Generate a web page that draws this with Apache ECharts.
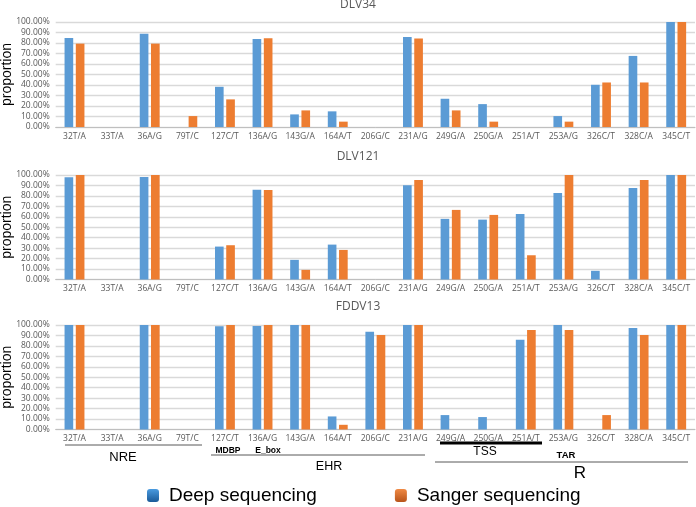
<!DOCTYPE html>
<html>
<head>
<meta charset="utf-8">
<script src="https://cdn.jsdelivr.net/npm/echarts@6/dist/echarts.min.js"></script>
<style>
html,body{margin:0;padding:0;background:#fff;}
#chart{width:696px;height:507px;}
</style>
</head>
<body>
<div id="chart"></div>
<script>
const categories = ['32T/A','33T/A','36A/G','79T/C','127C/T','136A/G','143G/A','164A/T','206G/C','231A/G','249G/A','250G/A','251A/T','253A/G','326C/T','328C/A','345C/T'];
const panelTitles = ['DLV34','DLV121','FDDV13'];
const seriesNames = ['Deep sequencing','Sanger sequencing'];
const yTicks = [0,10,20,30,40,50,60,70,80,90,100];

const dlv34Deep    = [84.8,0,88.9,0,38.3,83.9,12.0,14.9,0,85.8,26.9,21.8,0,10.4,40.2,67.7,100];
const dlv34Sanger  = [79.4,0,79.4,10.4,26.3,84.5,15.8,5.1,0,84.2,15.8,5.1,0,5.1,42.4,42.4,100];
const dlv121Deep   = [97.8,0,98.1,0,31.5,86.0,18.8,33.4,0,90.1,58.0,57.3,62.7,82.8,8.3,87.6,100];
const dlv121Sanger = [100,0,100,0,32.8,85.7,9.2,28.3,0,95.2,66.6,61.8,23.2,100,0,95.2,100];
const fddv13Deep   = [100,0,100,0,98.7,99.0,100,12.5,93.6,100,13.8,11.9,85.9,100,0,97.1,100];
const fddv13Sanger = [100,0,100,0,100,100,100,4.5,90.4,100,0,0,95.2,95.2,13.8,90.4,100];

const panelData = [[dlv34Deep,dlv34Sanger],[dlv121Deep,dlv121Sanger],[fddv13Deep,fddv13Sanger]];
const colors = ['#5B9BD5','#ED7D31'];

const gridTops = [22,175,325];
const gridHeights = [105,104.5,104.5];
const titleY = [5,157,307];

const chart = echarts.init(document.getElementById('chart'));
const grids=[],xAxes=[],yAxes=[],series=[],graphics=[];
for(let p=0;p<3;p++){
  grids.push({left:55.7,right:1,top:gridTops[p],height:gridHeights[p],outerBoundsMode:'none',containLabel:false});
  xAxes.push({type:'category',gridIndex:p,data:categories,
    axisTick:{show:false},
    axisLine:{lineStyle:{color:'#BFBFBF',width:1}},
    axisLabel:{interval:0,fontSize:8.5,color:'#595959',fontFamily:'Open Sans',margin:5,hideOverlap:false}});
  yAxes.push({type:'value',gridIndex:p,min:yTicks[0],max:yTicks[yTicks.length-1],interval:10,
    name:'proportion',nameLocation:'middle',nameGap:42,nameRotate:90,nameMoveOverlap:false,
    nameTextStyle:{fontSize:14,color:'#000',fontFamily:'Liberation Sans'},
    axisLine:{show:false},axisTick:{show:false},
    splitLine:{lineStyle:{color:'#D9D9D9',width:1.3}},
    axisLabel:{fontSize:8.5,color:'#595959',fontFamily:'Open Sans',margin:6,formatter:v=>v.toFixed(2)+'%'}});
  for(let s=0;s<2;s++){
    series.push({type:'bar',name:seriesNames[s],xAxisIndex:p,yAxisIndex:p,
      data:panelData[p][s],barWidth:'23%',barGap:'30%',
      itemStyle:{color:colors[s]},animation:false});
  }
  graphics.push({type:'text',x:358,y:titleY[p],style:{text:panelTitles[p],align:'center',verticalAlign:'middle',
    fontSize:12,fontFamily:'Open Sans',fill:'#595959'}});
}

function hline(x1,x2,y,w,c){graphics.push({type:'line',shape:{x1:x1,y1:y,x2:x2,y2:y},style:{stroke:c||'#595959',lineWidth:w||1}});}
function txt(t,x,y,size,bold){graphics.push({type:'text',x:x,y:y,style:{text:t,align:'center',verticalAlign:'middle',
  fontSize:size,fontWeight:bold?'bold':'normal',fontFamily:'Liberation Sans',fill:'#000'}});}

hline(440,542,443,3,'#000');
hline(65,202,445);
txt('MDBP',228,450.5,8.5,true);
txt('E_box',268,450.5,8.5,true);
txt('TSS',485,452,12);
hline(211,425,455);
txt('TAR',566,455.5,9.5,true);
txt('NRE',123,457,13);
hline(435,688,462);
txt('EHR',329,467,12.5);
txt('R',580,473,17);

const legendColors=[['#4A9BE0','#1B5A98'],['#F08A45','#B8541A']];
chart.setOption({
  animation:false,
  grid:grids,xAxis:xAxes,yAxis:yAxes,series:series,
  legend:{left:147,top:486,padding:0,itemWidth:12,itemHeight:13,itemGap:78,icon:'roundRect',
    textStyle:{fontSize:19,fontFamily:'Liberation Sans',color:'#000',padding:[0,0,0,5]},
    data:seriesNames.map((n,i)=>({name:n,itemStyle:{color:new echarts.graphic.LinearGradient(0,0,0,1,[{offset:0,color:legendColors[i][0]},{offset:1,color:legendColors[i][1]}])}}))},
  graphic:graphics
});
</script>
</body>
</html>
